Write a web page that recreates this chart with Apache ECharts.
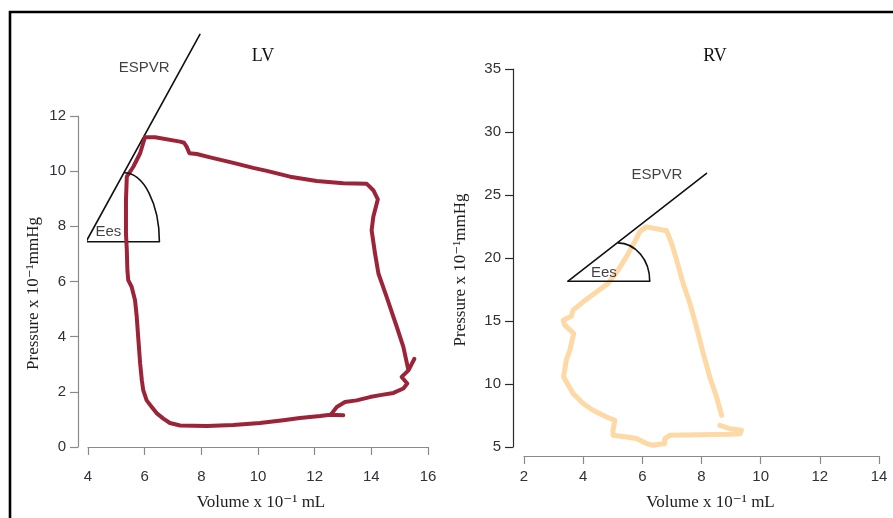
<!DOCTYPE html>
<html>
<head>
<meta charset="utf-8">
<script src="https://cdn.jsdelivr.net/npm/echarts@6/dist/echarts.min.js"></script>
<style>
  html, body { margin: 0; padding: 0; background: #fff; }
  #chart { width: 893px; height: 518px; }
</style>
</head>
<body>
<div id="chart"></div>
<script>
// ---- Pressure–volume loop traces (volume x10^-1 mL, pressure x10^-1 mmHg) ----
const lvLoop = [
  [13.01, 1.15], [12.55, 1.17], [12.19, 1.12], [11.48, 1.05], [10.89, 0.97], [10.07, 0.87],
  [9.13, 0.80], [8.19, 0.76], [7.25, 0.78], [6.89, 0.87], [6.66, 1.03], [6.42, 1.23],
  [6.25, 1.45], [6.07, 1.69], [5.95, 2.06], [5.90, 2.42], [5.84, 3.03], [5.78, 3.87],
  [5.72, 4.72], [5.66, 5.32], [5.54, 5.81], [5.42, 6.05], [5.39, 6.41], [5.37, 7.14],
  [5.34, 7.74], [5.34, 8.95], [5.37, 9.80], [5.60, 10.16], [5.84, 10.65], [6.01, 11.23],
  [6.37, 11.23], [7.25, 11.07], [7.39, 11.03], [7.48, 10.89], [7.58, 10.65], [7.84, 10.62],
  [8.31, 10.50], [9.13, 10.30], [9.83, 10.12], [10.31, 10.01], [11.13, 9.80], [12.07, 9.64],
  [13.01, 9.56], [13.84, 9.54], [14.07, 9.31], [14.23, 8.98], [14.07, 8.35], [14.01, 7.86],
  [14.13, 7.02], [14.25, 6.29], [14.54, 5.44], [14.90, 4.35], [15.13, 3.63], [15.31, 2.78],
  [15.52, 3.20], [15.31, 2.78], [15.19, 2.66], [15.07, 2.54], [15.27, 2.30], [15.13, 2.12],
  [14.78, 1.96], [14.31, 1.88], [13.95, 1.81], [13.48, 1.69], [13.07, 1.63], [12.78, 1.45],
  [12.60, 1.21], [12.55, 1.17]
];

const rvLoop = [
  [8.62, 6.72], [8.96, 6.46], [9.35, 6.33], [9.30, 6.06], [8.96, 6.01], [7.94, 5.98],
  [6.93, 5.93], [6.76, 5.67], [6.76, 5.27], [6.36, 5.14], [6.14, 5.27], [5.80, 5.67],
  [5.46, 5.79], [5.01, 5.93], [5.01, 6.33], [5.07, 7.12], [4.79, 7.38], [4.33, 7.92],
  [4.00, 8.45], [3.66, 9.24], [3.34, 10.56], [3.43, 11.89], [3.55, 12.68], [3.68, 14.01],
  [3.38, 14.67], [3.32, 15.06], [3.60, 15.38], [3.66, 15.86], [4.00, 16.52], [4.45, 17.31],
  [4.84, 17.98], [5.18, 19.03], [5.46, 20.09], [5.74, 21.28], [5.91, 22.08], [6.14, 22.47],
  [6.82, 22.16], [6.99, 21.16], [7.16, 19.83], [7.38, 17.98], [7.61, 16.39], [7.83, 14.53],
  [8.06, 12.42], [8.28, 10.56], [8.51, 8.97], [8.68, 7.52]
];

// ---- End-systolic pressure–volume relation and the Ees angle ----
const lvEspvr = [[3.93, 7.44], [7.95, 14.96]];
const lvEesBase = [[3.93, 7.44], [6.52, 7.44]];
const lvEesArc = [[5.27, 9.94, 6.52, 7.44]];   // arc from the ESPVR line down to the base
const rvEspvr = [[3.49, 18.16], [8.17, 26.72]];
const rvEesBase = [[3.49, 18.16], [6.25, 18.16]];
const rvEesArc = [[5.17, 21.20, 6.25, 18.16]];

// ---- Annotation text anchors ----
const lvNotes = [{ name: 'ESPVR', value: [5.98, 13.74] }, { name: 'Ees', value: [4.72, 7.79] }];
const rvNotes = [{ name: 'ESPVR', value: [6.49, 26.58] }, { name: 'Ees', value: [4.70, 18.82] }];

// ---- Axis ranges ----
const lvX = { min: 4, max: 16, interval: 2 };
const lvY = { min: 0, max: 12, interval: 2 };
const rvX = { min: 2, max: 14, interval: 2 };
const rvY = { min: 5, max: 35, interval: 5 };

const panelTitles = ['LV', 'RV'];
const xTitle = 'Volume x 10\u207B\u00B9 mL';
const yTitle = 'Pressure x 10\u207B\u00B9mmHg';

const tickFont = "'Liberation Sans Narrow', 'Arial Narrow', 'Liberation Sans', sans-serif";
const serifFont = "'Liberation Serif', 'DejaVu Serif', serif";
const noteFont = "'Liberation Sans', Arial, sans-serif";

function xAxisCfg(idx, range, color, namePad) {
  return {
    type: 'value', gridIndex: idx, min: range.min, max: range.max, interval: range.interval,
    offset: 9,
    axisLine: { show: true, lineStyle: { color: color, width: 1.2 } },
    axisTick: { show: true, length: 8, lineStyle: { color: color, width: 1.2 } },
    axisLabel: { color: '#2e323a', fontFamily: tickFont, fontSize: 15, margin: 13 },
    splitLine: { show: false },
    name: xTitle, nameLocation: 'middle', nameGap: 38,
    nameTextStyle: { fontFamily: serifFont, fontSize: 17, color: '#1e1e1e', padding: namePad }
  };
}
function yAxisCfg(idx, range, color, offset, gap) {
  return {
    type: 'value', gridIndex: idx, min: range.min, max: range.max, interval: range.interval,
    offset: offset,
    axisLine: { show: true, lineStyle: { color: color, width: 1.2 } },
    axisTick: { show: true, length: 8, lineStyle: { color: color, width: 1.2 } },
    axisLabel: { color: '#2e323a', fontFamily: tickFont, fontSize: 15, margin: 12 },
    splitLine: { show: false },
    name: yTitle, nameLocation: 'middle', nameGap: gap, nameRotate: 90,
    nameTextStyle: { fontFamily: serifFont, fontSize: 17, color: '#1e1e1e', padding: [0, 24, 0, 0] }
  };
}

function strokeSeries(idx, data, color, width, z) {
  return {
    type: 'line', xAxisIndex: idx, yAxisIndex: idx, data: data,
    showSymbol: false, symbol: 'none', clip: false, silent: true, z: z,
    lineStyle: { color: color, width: width, cap: 'round', join: 'round' }
  };
}

function arcSeries(idx, data) {
  return {
    type: 'custom', xAxisIndex: idx, yAxisIndex: idx, data: data, clip: false, silent: true, z: 5,
    encode: { x: [0, 2], y: [1, 3] },
    renderItem: function (params, api) {
      const top = api.coord([api.value(0), api.value(1)]);
      const end = api.coord([api.value(2), api.value(3)]);
      const rx = end[0] - top[0];
      const ry = end[1] - top[1];
      const k = 0.5523;
      return {
        type: 'bezierCurve',
        shape: {
          x1: top[0], y1: top[1], x2: end[0], y2: end[1],
          cpx1: top[0] + k * rx, cpy1: top[1],
          cpx2: end[0], cpy2: end[1] - k * ry
        },
        style: { fill: null, stroke: '#111', lineWidth: 1.6 }
      };
    }
  };
}

function noteSeries(idx, data) {
  return {
    type: 'scatter', xAxisIndex: idx, yAxisIndex: idx, data: data, symbolSize: 0, clip: false, silent: true, z: 6,
    itemStyle: { color: '#111' },
    label: {
      show: true, position: 'inside', formatter: '{b}',
      fontFamily: noteFont, fontSize: 15, color: '#111', textBorderWidth: 0
    }
  };
}

const chart = echarts.init(document.getElementById('chart'), null, { renderer: 'canvas' });
chart.setOption({
  animation: false,
  backgroundColor: '#ffffff',
  title: [
    { text: panelTitles[0], left: 258, top: 42, textAlign: 'center',
      textStyle: { fontFamily: serifFont, fontSize: 18, fontWeight: 'normal', color: '#111' } },
    { text: panelTitles[1], left: 710, top: 42, textAlign: 'center',
      textStyle: { fontFamily: serifFont, fontSize: 18, fontWeight: 'normal', color: '#111' } }
  ],
  grid: [
    { left: 88, top: 116, width: 340, height: 331 },
    { left: 524, top: 69, width: 355, height: 378 }
  ],
  xAxis: [xAxisCfg(0, lvX, '#8a8a8a', [0, 0, 0, 6]), xAxisCfg(1, rvX, '#8a8a8a', [0, 0, 0, 18])],
  yAxis: [yAxisCfg(0, lvY, '#8a8a8a', 10, 36), yAxisCfg(1, rvY, '#2a2a2a', 11, 44)],
  graphic: [
    { type: 'rect', shape: { x: 10, y: 12, width: 900, height: 520 },
      style: { fill: null, stroke: '#000', lineWidth: 2.6 }, z: 100 }
  ],
  series: [
    strokeSeries(0, lvEspvr, '#111', 1.6, 3),
    strokeSeries(0, lvEesBase, '#111', 1.6, 3),
    strokeSeries(0, lvLoop, '#9c2438', 4, 4),
    arcSeries(0, lvEesArc),
    noteSeries(0, lvNotes),
    strokeSeries(1, rvLoop, '#fdd9a6', 5, 2),
    strokeSeries(1, rvEspvr, '#111', 1.6, 3),
    strokeSeries(1, rvEesBase, '#111', 1.6, 3),
    arcSeries(1, rvEesArc),
    noteSeries(1, rvNotes)
  ]
});
</script>
</body>
</html>
